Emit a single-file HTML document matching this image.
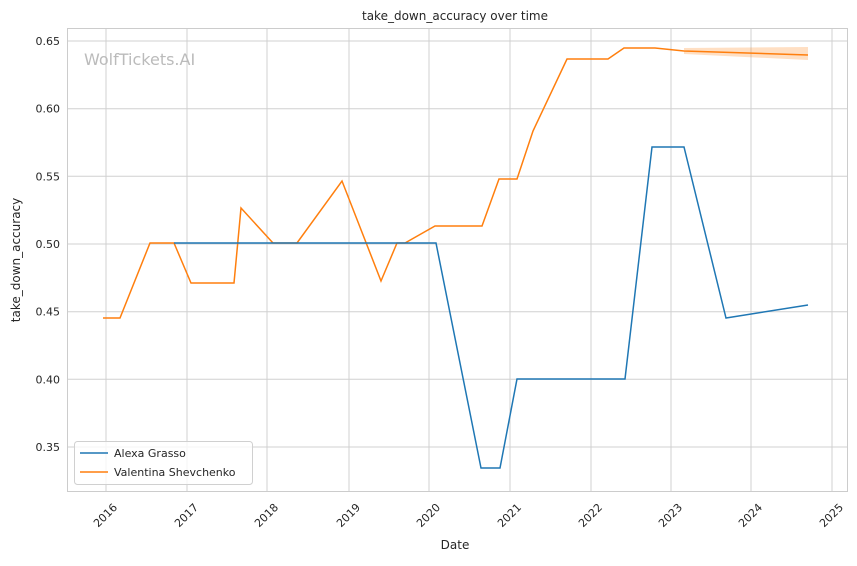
<!DOCTYPE html><html><head><style>body{margin:0;background:#fff}svg{font-family:"DejaVu Sans","Liberation Sans",sans-serif}</style></head><body>
<svg width="857" height="561" xmlns="http://www.w3.org/2000/svg">
<rect width="857" height="561" fill="#fff"/>
<g stroke="#d0d0d0" stroke-width="1">
<line x1="106" y1="28" x2="106" y2="491"/><line x1="187" y1="28" x2="187" y2="491"/><line x1="267" y1="28" x2="267" y2="491"/><line x1="349" y1="28" x2="349" y2="491"/><line x1="429" y1="28" x2="429" y2="491"/><line x1="510" y1="28" x2="510" y2="491"/><line x1="591" y1="28" x2="591" y2="491"/><line x1="671" y1="28" x2="671" y2="491"/><line x1="751" y1="28" x2="751" y2="491"/><line x1="832" y1="28" x2="832" y2="491"/>
<line x1="67" y1="41" x2="847" y2="41"/><line x1="67" y1="108.7" x2="847" y2="108.7"/><line x1="67" y1="176.3" x2="847" y2="176.3"/><line x1="67" y1="244" x2="847" y2="244"/><line x1="67" y1="311.7" x2="847" y2="311.7"/><line x1="67" y1="379.3" x2="847" y2="379.3"/><line x1="67" y1="447" x2="847" y2="447"/>
</g>
<rect x="67.5" y="28.5" width="780" height="463" fill="none" stroke="#cccccc"/>
<text x="84" y="65" font-size="16" fill="#bbbbbb">WolfTickets.AI</text>
<polygon points="684,48 808,47 808,60 684,54" fill="#ff7f0e" opacity="0.25"/>
<polyline fill="none" stroke="#ff7f0e" stroke-width="1.5" points="103,318 120,318 150,243 174,243 191,283 234,283 241,208 273,243 297,243 342,181 381,281 397,243 405,243 435,226 482,226 499,179 517,179 533,131 567,59 608,59 624,48 655,48 684,51 808,55"/>
<polyline fill="none" stroke="#1f77b4" stroke-width="1.5" points="174,243 436,243 481,468 500,468 517,379 625,379 652,147 684,147 726,318 808,305"/>
<g font-size="11" fill="#262626" text-anchor="end">
<text x="60" y="45">0.65</text><text x="60" y="112.7">0.60</text><text x="60" y="180.3">0.55</text><text x="60" y="248">0.50</text><text x="60" y="315.7">0.45</text><text x="60" y="383.3">0.40</text><text x="60" y="451">0.35</text>
</g>
<g font-size="11" fill="#262626" text-anchor="middle">
<text transform="translate(108,518) rotate(-45)">2016</text><text transform="translate(189,518) rotate(-45)">2017</text><text transform="translate(269,518) rotate(-45)">2018</text><text transform="translate(351,518) rotate(-45)">2019</text><text transform="translate(431,518) rotate(-45)">2020</text><text transform="translate(512,518) rotate(-45)">2021</text><text transform="translate(593,518) rotate(-45)">2022</text><text transform="translate(673,518) rotate(-45)">2023</text><text transform="translate(753,518) rotate(-45)">2024</text><text transform="translate(834,518) rotate(-45)">2025</text>
</g>
<text x="455" y="549" font-size="12" fill="#262626" text-anchor="middle">Date</text>
<text transform="translate(20,260) rotate(-90)" font-size="12" fill="#262626" text-anchor="middle">take_down_accuracy</text>
<text x="455" y="20" font-size="12" fill="#262626" text-anchor="middle">take_down_accuracy over time</text>
<rect x="74.5" y="441.5" width="178" height="43" rx="3" fill="#fff" fill-opacity="0.8" stroke="#d0d0d0"/>
<line x1="80" y1="453" x2="108" y2="453" stroke="#1f77b4" stroke-width="1.5"/>
<line x1="80" y1="472" x2="108" y2="472" stroke="#ff7f0e" stroke-width="1.5"/>
<text x="114" y="457" font-size="11" fill="#262626">Alexa Grasso</text>
<text x="114" y="476" font-size="11" fill="#262626">Valentina Shevchenko</text>
</svg></body></html>
